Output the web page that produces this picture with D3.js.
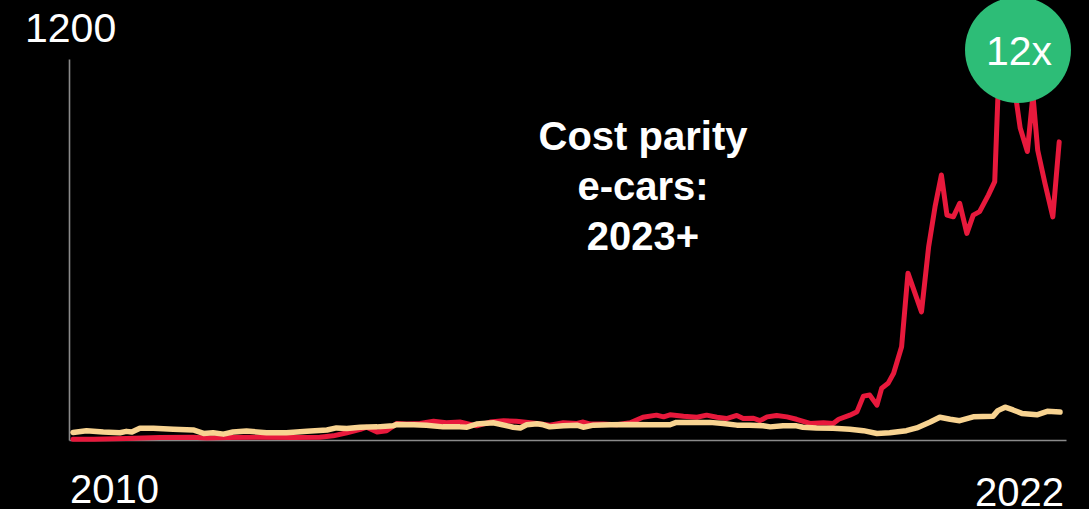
<!DOCTYPE html>
<html>
<head>
<meta charset="utf-8">
<script src="https://cdn.jsdelivr.net/npm/d3@7"></script>
<style>
  html, body { margin: 0; padding: 0; background: #000; }
  svg { display: block; }
  text { font-family: "Liberation Sans", Arial, sans-serif; fill: #fff; }
</style>
</head>
<body>
<svg id="chart" width="1089" height="509"></svg>
<script>
// Red series: battery-metal price index (decimal year, index value)
const redYears = [2010.00,2010.26,2010.67,2011.09,2011.51,2011.68,2011.93,2012.35,2012.77,2013.10,2013.27,2013.44,2013.61,2013.69,2013.82,2013.94,2014.07,2014.19,2014.36,2014.53,2014.69,2014.86,2015.07,2015.24,2015.41,2015.57,2015.66,2015.83,2015.99,2016.16,2016.33,2016.41,2016.50,2016.66,2016.83,2017.00,2017.16,2017.33,2017.42,2017.50,2017.67,2017.84,2017.96,2018.09,2018.21,2018.34,2018.42,2018.55,2018.63,2018.72,2018.84,2018.97,2019.09,2019.26,2019.43,2019.55,2019.62,2019.76,2019.85,2019.93,2020.01,2020.10,2020.16,2020.24,2020.31,2020.41,2020.49,2020.66,2020.75,2020.83,2020.91,2020.98,2021.06,2021.14,2021.23,2021.31,2021.39,2021.50,2021.58,2021.62,2021.71,2021.78,2021.85,2021.90,2021.99,2022.06,2022.12,2022.21,2022.31,2022.39];
const redValues = [102,102,104,107,108,106,107,108,107,108,112,121,131,137,123,127,148,146,148,154,150,152,141,152,156,154,152,148,143,150,148,152,146,146,144,150,166,172,167,173,169,166,172,166,162,171,162,163,156,167,171,167,160,148,150,148,160,172,182,227,230,201,250,264,293,370,583,471,660,775,867,751,746,785,698,751,761,809,848,1094,1200,1157,1084,1003,935,1099,939,844,746,963];

// Yellow series: comparison index (decimal year, index value)
const yellowYears = [2010.00,2010.17,2010.38,2010.59,2010.67,2010.74,2010.84,2011.01,2011.26,2011.51,2011.64,2011.76,2011.89,2012.01,2012.18,2012.43,2012.68,2012.94,2013.19,2013.31,2013.44,2013.61,2013.82,2014.02,2014.07,2014.28,2014.44,2014.65,2014.86,2014.95,2015.07,2015.28,2015.53,2015.62,2015.70,2015.83,2015.91,2015.99,2016.16,2016.33,2016.41,2016.54,2016.75,2017.00,2017.25,2017.50,2017.58,2017.75,2018.00,2018.17,2018.34,2018.50,2018.67,2018.76,2018.92,2019.09,2019.17,2019.34,2019.55,2019.76,2019.93,2020.10,2020.26,2020.47,2020.60,2020.77,2020.89,2021.02,2021.14,2021.31,2021.56,2021.62,2021.71,2021.81,2021.92,2022.11,2022.24,2022.40];
const yellowValues = [122,127,123,121,125,123,134,134,131,129,119,121,117,123,126,121,121,125,129,135,133,137,138,141,145,144,143,138,138,137,146,150,137,135,144,147,144,138,141,143,137,143,144,145,144,144,151,151,151,148,143,143,141,138,141,141,137,135,134,131,127,119,121,127,135,152,166,160,156,167,169,185,195,187,177,173,183,181];

const yTickLabels = ["1200"];
const xTickLabels = ["2010", "2022"];
const calloutLines = ["Cost parity", "e-cars:", "2023+"];
const badgeText = "12x";

const svg = d3.select("#chart");

const x = d3.scaleLinear().domain([2010, 2022.4]).range([73, 1060]);
const y = d3.scaleLinear().domain([100, 1200]).range([440, 60]);

// Axes: plain domain lines only
const axisColor = "#8a8a8a";
const xAxis = d3.axisBottom(d3.scaleLinear().domain([0, 1]).range([69, 1066])).ticks(0).tickSizeOuter(0);
const yAxis = d3.axisLeft(d3.scaleLinear().domain([0, 1]).range([440, 59])).ticks(0).tickSizeOuter(0);
svg.append("g").attr("transform", "translate(0,440)").call(xAxis)
  .select(".domain").attr("stroke", axisColor).attr("stroke-width", 1.6);
svg.append("g").attr("transform", "translate(69,0)").call(yAxis)
  .select(".domain").attr("stroke", axisColor).attr("stroke-width", 1.6);

const line = d3.line().x(d => x(d[0])).y(d => y(d[1]));

const redData = redYears.map((t, i) => [t, redValues[i]]);
const yellowData = yellowYears.map((t, i) => [t, yellowValues[i]]);

svg.append("path").datum(redData).attr("d", line)
  .attr("fill", "none").attr("stroke", "#e8193c").attr("stroke-width", 5)
  .attr("stroke-linejoin", "round").attr("stroke-linecap", "round");

svg.append("path").datum(yellowData).attr("d", line)
  .attr("fill", "none").attr("stroke", "#f8d391").attr("stroke-width", 5.5)
  .attr("stroke-linejoin", "round").attr("stroke-linecap", "round");

// Axis labels
svg.append("text").attr("x", 25).attr("y", 42).attr("font-size", 41).text(yTickLabels[0]);
svg.append("text").attr("x", 70).attr("y", 503).attr("font-size", 40).text(xTickLabels[0]);
svg.append("text").attr("x", 1064).attr("y", 506).attr("font-size", 40)
  .attr("text-anchor", "end").text(xTickLabels[1]);

// Callout
svg.append("g").selectAll("text").data(calloutLines).join("text")
  .attr("x", 643).attr("y", (d, i) => 150 + i * 50)
  .attr("text-anchor", "middle").attr("font-size", 40).attr("font-weight", "bold")
  .text(d => d);

// Multiplier badge
svg.append("circle").attr("cx", 1018).attr("cy", 50).attr("r", 53).attr("fill", "#2dbd77");
svg.append("text").attr("x", 1019).attr("y", 65).attr("text-anchor", "middle")
  .attr("font-size", 41).text(badgeText);
</script>
</body>
</html>
